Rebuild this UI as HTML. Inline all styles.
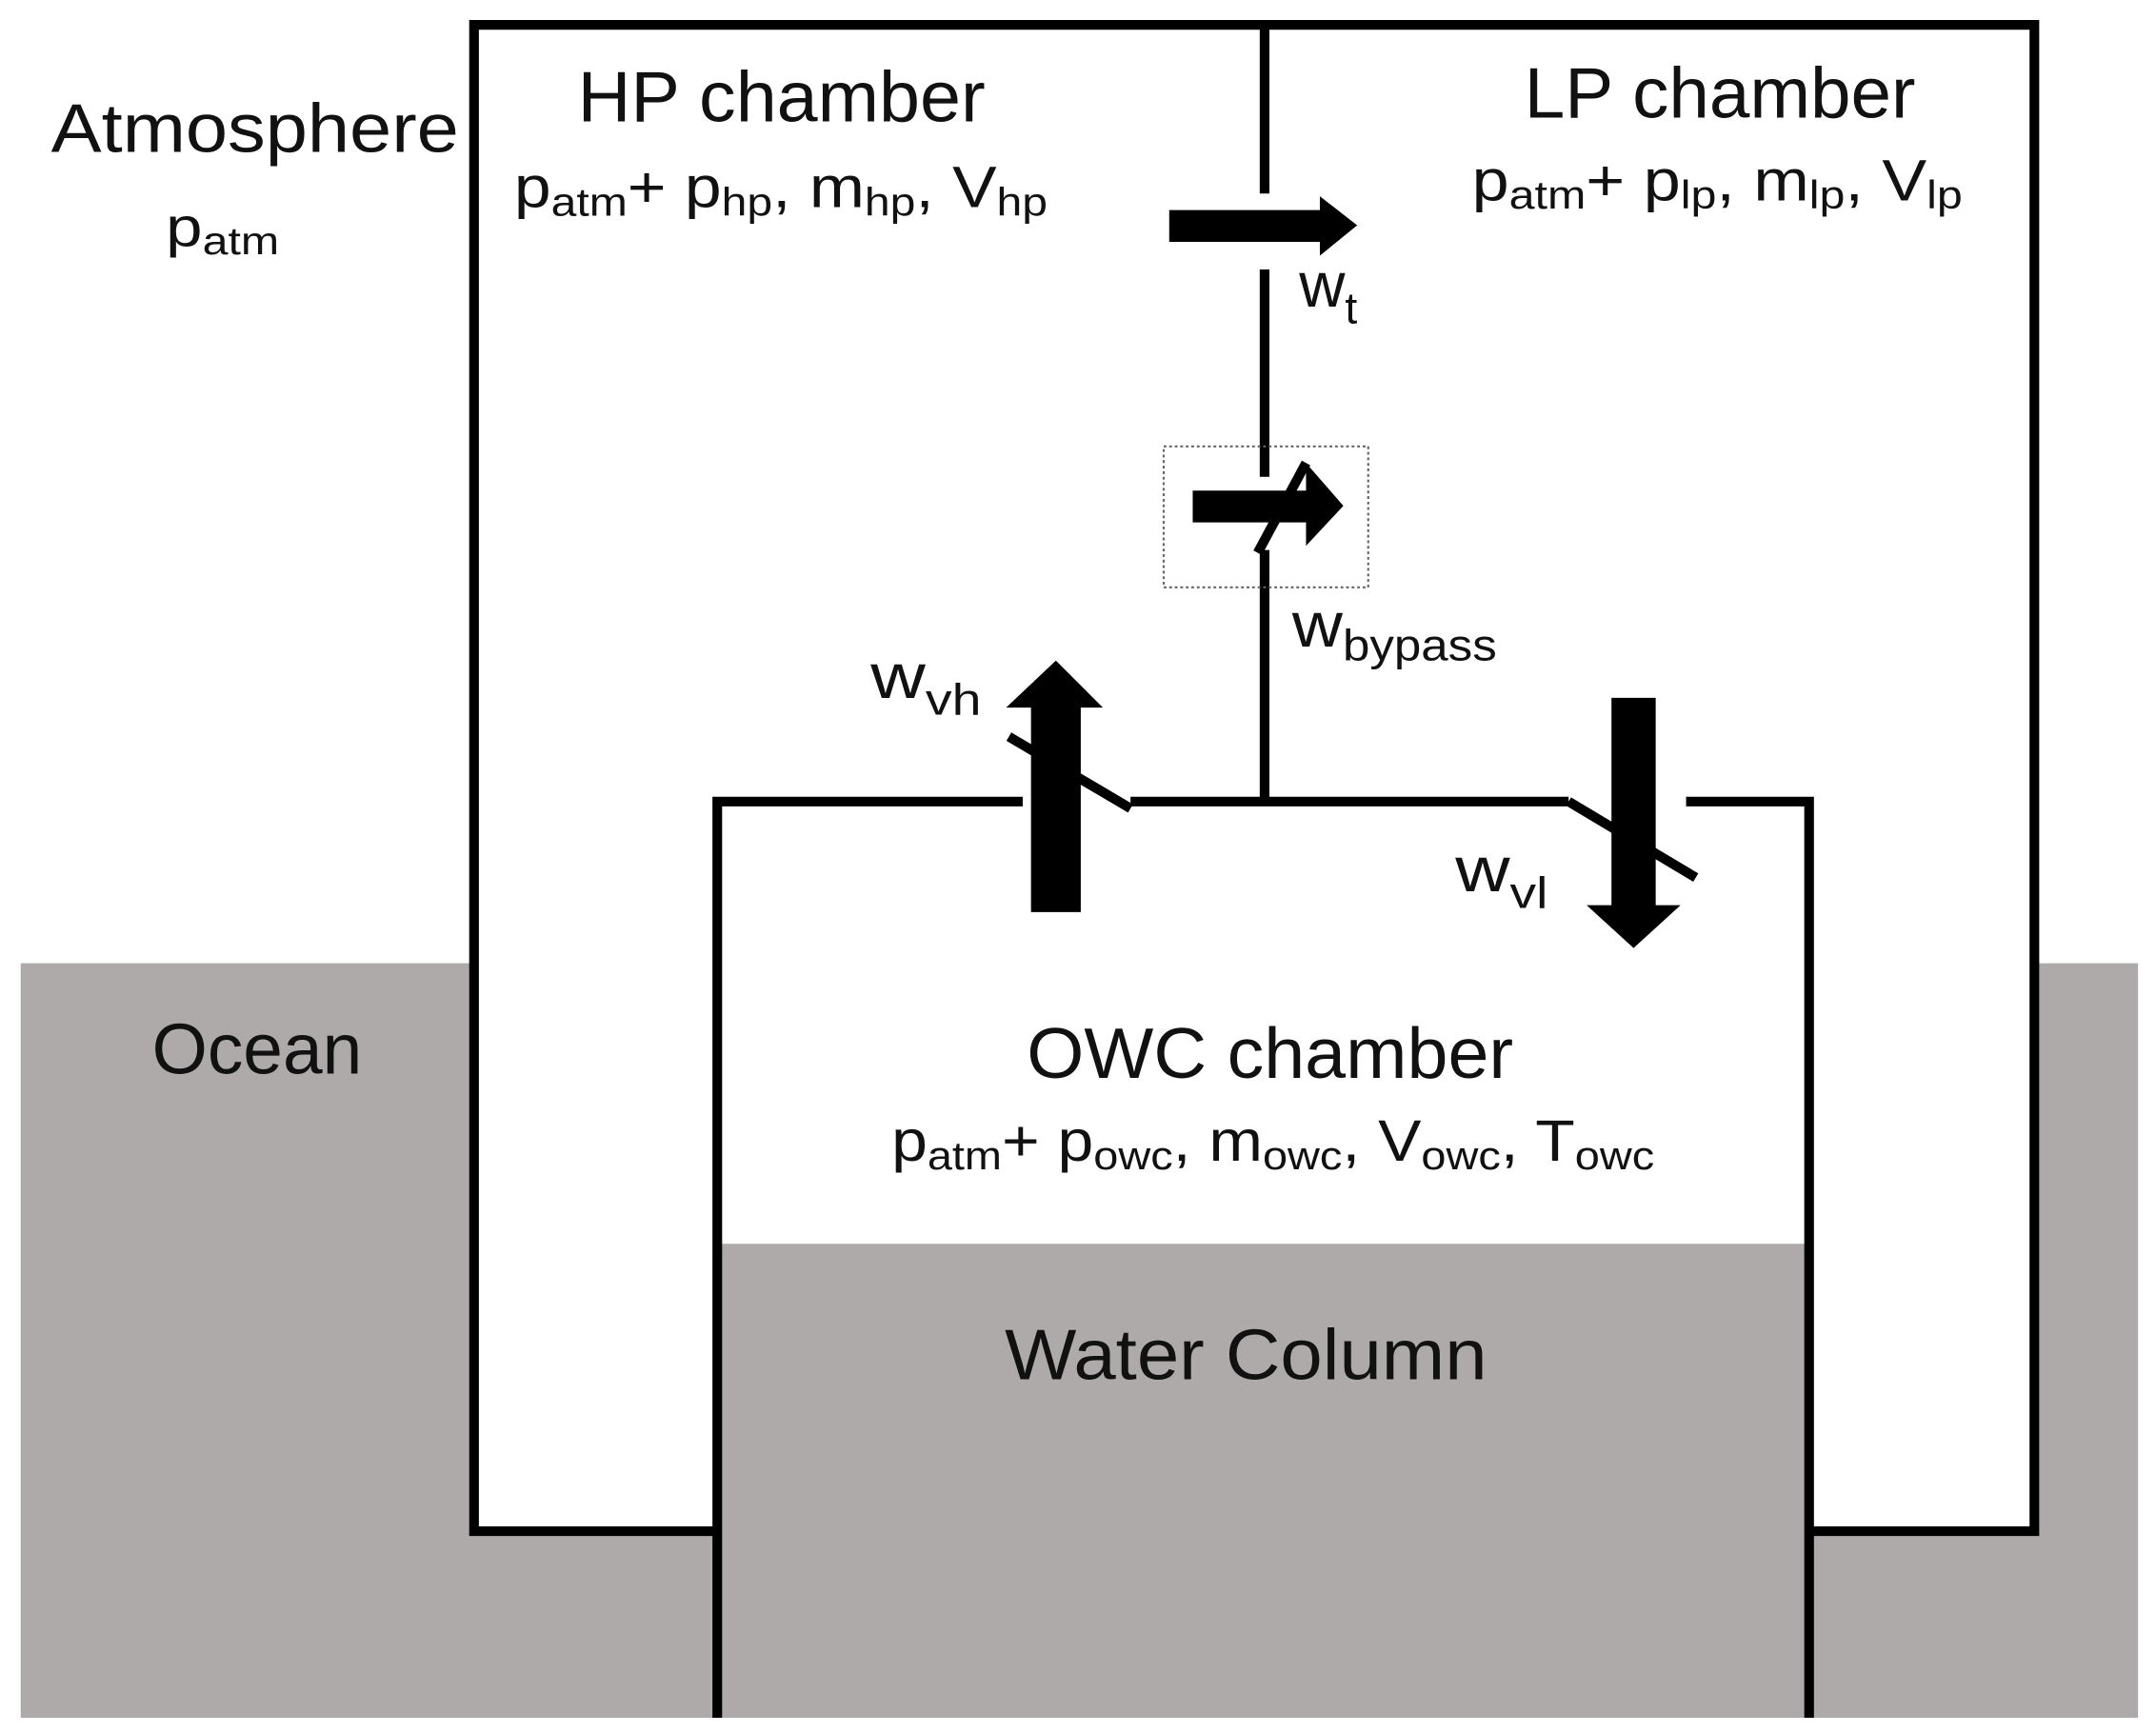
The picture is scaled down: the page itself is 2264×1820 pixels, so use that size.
<!DOCTYPE html>
<html><head><meta charset="utf-8"><style>html,body{margin:0;padding:0;background:#fff}svg{display:block}text{font-family:"Liberation Sans",sans-serif;fill:#111}</style></head>
<body>
<svg width="2264" height="1820" viewBox="0 0 1560 1254" preserveAspectRatio="none" xmlns="http://www.w3.org/2000/svg">
<rect x="0" y="0" width="1560" height="1254" fill="#fff"/>
<rect x="15" y="697" width="1532" height="546" fill="#aeaaaa"/>
<rect x="343" y="18" width="1129" height="1090" fill="#fff"/>
<rect x="519" y="900" width="790" height="343" fill="#aeaaaa"/>
<g stroke="#000" stroke-width="7" fill="none">
<path d="M519,1108 H343 V18 H1472 V1108 H1309"/>
<path d="M519,1243 V580 H740"/>
<path d="M818,580 H1135"/>
<path d="M1220,580 H1309 V1243"/>
<path d="M915,18 V140"/>
<path d="M915,195 V345"/>
<path d="M915,398 V580"/>
<path d="M730,533 L818,585"/>
<path d="M1135,580 L1227,635"/>
<path d="M910,400 L945,335"/>
</g>
<rect x="842" y="323" width="148" height="102" fill="none" stroke="#666" stroke-width="1.5" stroke-dasharray="2,2"/>
<polygon points="846,152 955,152 955,142 982,163 955,185 955,175 846,175" fill="#000"/>
<polygon points="863,355 945,355 945,335 972,366 945,395 945,378 863,378" fill="#000"/>
<polygon points="746,660 746,512 728,512 764,478 798,512 782,512 782,660" fill="#000"/>
<polygon points="1166,505 1198,505 1198,655 1216,655 1182,686 1148,655 1166,655" fill="#000"/>
<text x="37" y="110" font-size="50" textLength="295" lengthAdjust="spacingAndGlyphs">Atmosphere</text>
<text x="120" y="178" font-size="40" textLength="82" lengthAdjust="spacingAndGlyphs">p<tspan font-size="28" dy="6">atm</tspan></text>
<text x="418" y="88" font-size="52" textLength="295" lengthAdjust="spacingAndGlyphs">HP chamber</text>
<text x="1103" y="85" font-size="52" textLength="283" lengthAdjust="spacingAndGlyphs">LP chamber</text>
<text x="372" y="150" font-size="42" textLength="386" lengthAdjust="spacingAndGlyphs">p<tspan font-size="29" dy="6">atm</tspan><tspan dy="-6">+ p</tspan><tspan font-size="29" dy="6">hp</tspan><tspan dy="-6">, m</tspan><tspan font-size="29" dy="6">hp</tspan><tspan dy="-6">, V</tspan><tspan font-size="29" dy="6">hp</tspan></text>
<text x="1065" y="145" font-size="42" textLength="355" lengthAdjust="spacingAndGlyphs">p<tspan font-size="29" dy="6">atm</tspan><tspan dy="-6">+ p</tspan><tspan font-size="29" dy="6">lp</tspan><tspan dy="-6">, m</tspan><tspan font-size="29" dy="6">lp</tspan><tspan dy="-6">, V</tspan><tspan font-size="29" dy="6">lp</tspan></text>
<text x="940" y="222" font-size="46">w<tspan font-size="32" dy="12">t</tspan></text>
<text x="935" y="468" font-size="46" textLength="148" lengthAdjust="spacingAndGlyphs">w<tspan font-size="32" dy="10">bypass</tspan></text>
<text x="630" y="505" font-size="46" textLength="80" lengthAdjust="spacingAndGlyphs">w<tspan font-size="32" dy="12">vh</tspan></text>
<text x="1053" y="645" font-size="46" textLength="67" lengthAdjust="spacingAndGlyphs">w<tspan font-size="32" dy="12">vl</tspan></text>
<text x="110" y="777" font-size="52" textLength="152" lengthAdjust="spacingAndGlyphs">Ocean</text>
<text x="743" y="780" font-size="52" textLength="352" lengthAdjust="spacingAndGlyphs">OWC chamber</text>
<text x="645" y="840" font-size="42" textLength="552" lengthAdjust="spacingAndGlyphs">p<tspan font-size="29" dy="6">atm</tspan><tspan dy="-6">+ p</tspan><tspan font-size="29" dy="6">owc</tspan><tspan dy="-6">, m</tspan><tspan font-size="29" dy="6">owc</tspan><tspan dy="-6">, V</tspan><tspan font-size="29" dy="6">owc</tspan><tspan dy="-6">, T</tspan><tspan font-size="29" dy="6">owc</tspan></text>
<text x="727" y="998" font-size="52" textLength="349" lengthAdjust="spacingAndGlyphs">Water Column</text>
</svg>
</body></html>
